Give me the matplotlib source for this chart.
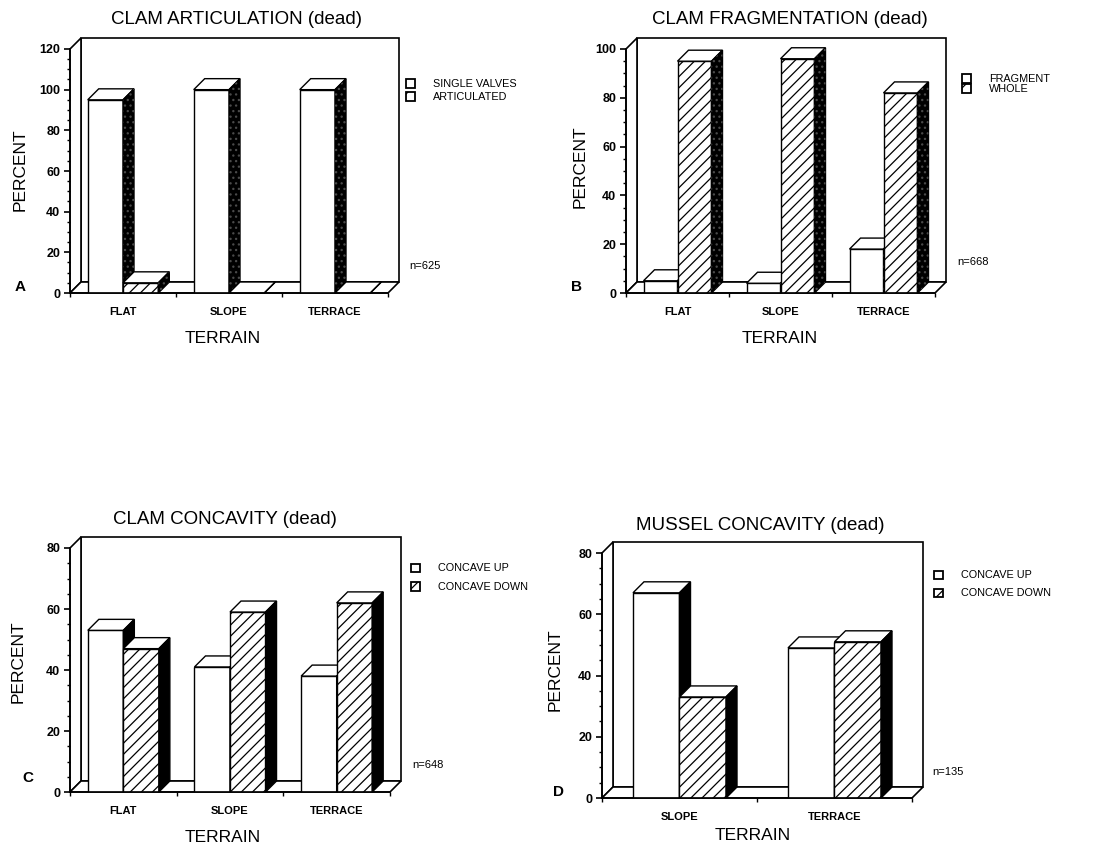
import matplotlib
matplotlib.use("Agg")
import matplotlib.pyplot as plt
from matplotlib.patches import Polygon, Rectangle
from matplotlib.ticker import MultipleLocator

plt.rcParams['font.family'] = ['Liberation Sans', 'DejaVu Sans']
plt.rcParams['hatch.linewidth'] = 0.9

# data
terrain3 = ['FLAT', 'SLOPE', 'TERRACE']
terrain2 = ['SLOPE', 'TERRACE']
single_valves = [95, 100, 100]
articulated = [5, 0, 0]
fragment = [5, 4, 18]
whole = [95, 96, 82]
clam_up = [53, 41, 38]
clam_down = [47, 59, 62]
mussel_up = [67, 49]
mussel_down = [33, 51]

W, H = 1117, 846
fig = plt.figure(figsize=(W / 100, H / 100), dpi=100)


def fx(x):
    return x / W


def fy(y):
    return 1 - y / H


def draw_bar(ax, xl, w, h, dx, dy, hatch, stipple, z):
    # front face
    ax.bar(xl, h, width=w, align='edge', facecolor='white', edgecolor='black',
           hatch=hatch, lw=1, zorder=z)
    # top face
    ax.add_patch(Polygon([(xl, h), (xl + w, h), (xl + w + dx, h + dy), (xl + dx, h + dy)],
                         closed=True, facecolor='white', edgecolor='black', lw=1,
                         zorder=z + 0.1, clip_on=False))
    # side face
    side = [(xl + w, 0), (xl + w + dx, dy), (xl + w + dx, h + dy), (xl + w, h)]
    ax.add_patch(Polygon(side, closed=True, facecolor='black', edgecolor='black', lw=1,
                         zorder=z + 0.2, clip_on=False))
    if stipple:
        ax.add_patch(Polygon(side, closed=True, facecolor='none', edgecolor='#4a4a4a',
                             hatch='...', lw=0, zorder=z + 0.3, clip_on=False))


def panel(box, cats, s1, s2, ymax, bar_w, stipple):
    x0, x1, y0, yt = box
    ax = fig.add_axes([fx(x0), fy(y0), (x1 - x0) / W, (y0 - yt) / H])
    ax.set_facecolor('none')
    ncat = len(cats)
    xmin, xmax = -0.5, ncat - 0.5
    ax.set_xlim(xmin, xmax)
    ax.set_ylim(0, ymax)

    # depth of the 3D effect, about 11 px each way
    dx = 11 / (x1 - x0) * (xmax - xmin)
    dy = 11 / (y0 - yt) * ymax

    # walls and floor
    ax.add_patch(Rectangle((xmin + dx, dy), xmax - xmin, ymax, facecolor='white',
                           edgecolor='black', lw=1.2, zorder=0.5, clip_on=False))
    ax.add_patch(Polygon([(xmin, 0), (xmin + dx, dy), (xmin + dx, ymax + dy), (xmin, ymax)],
                         closed=True, facecolor='white', edgecolor='black', lw=1.2,
                         zorder=0.6, clip_on=False))
    ax.add_patch(Polygon([(xmin, 0), (xmax, 0), (xmax + dx, dy), (xmin + dx, dy)],
                         closed=True, facecolor='white', edgecolor='black', lw=1.2,
                         zorder=0.7, clip_on=False))

    z = 2
    for i in range(ncat):
        draw_bar(ax, i - bar_w, bar_w, s1[i], dx, dy, None, stipple, z)
        z += 1
        draw_bar(ax, i, bar_w, s2[i], dx, dy, '///', stipple, z)
        z += 1

    for side in ['top', 'right']:
        ax.spines[side].set_visible(False)
    for side in ['left', 'bottom']:
        ax.spines[side].set_linewidth(1.2)
        ax.spines[side].set_zorder(50)

    ax.yaxis.set_major_locator(MultipleLocator(20))
    ax.yaxis.set_minor_locator(MultipleLocator(5))
    ax.tick_params(axis='y', which='major', direction='out', length=4, width=1.2,
                   labelsize=9, pad=3)
    ax.tick_params(axis='y', which='minor', direction='out', length=2, width=1)
    for t in ax.get_yticklabels():
        t.set_fontweight('bold')

    ax.set_xticks([i - 0.5 for i in range(ncat + 1)])
    ax.set_xticklabels([])
    ax.set_xticks(range(ncat), minor=True)
    ax.set_xticklabels(cats, minor=True)
    ax.tick_params(axis='x', which='major', direction='out', length=3, width=1)
    ax.tick_params(axis='x', which='minor', length=0, pad=10, labelsize=8)
    for t in ax.get_xticklabels(minor=True):
        t.set_fontweight('bold')
        t.set_family(['Liberation Sans Narrow', 'Liberation Sans'])
    return ax


def legend(x, y1, y2, labels):
    for y, lab, hatch in [(y1, labels[0], None), (y2, labels[1], '//')]:
        fig.add_artist(Rectangle((fx(x - 4.5), fy(y + 4)), 9 / W, 8.5 / H,
                                 transform=fig.transFigure, facecolor='white',
                                 edgecolor='black', lw=1.3, hatch=hatch))
        fig.text(fx(x + 23), fy(y), lab, fontsize=7.8, va='center', ha='left',
                 family=['Liberation Sans Narrow', 'Liberation Sans'])


# A
panel((70, 388, 293, 49), terrain3, single_valves, articulated, 120, 0.333, True)
fig.text(fx(237), fy(20), 'CLAM ARTICULATION (dead)', fontsize=13.5, ha='center', va='center')
fig.text(fx(20), fy(170), 'PERCENT', fontsize=12.5, rotation=90, ha='center', va='center')
fig.text(fx(223), fy(338), 'TERRAIN', fontsize=12.5, ha='center', va='center')
fig.text(fx(20), fy(287), 'A', fontsize=11, fontweight='bold', ha='center', va='center')
fig.text(fx(409), fy(266), 'n=625', fontsize=8, ha='left', va='center')
legend(410, 84, 97, ['SINGLE VALVES', 'ARTICULATED'])

# B
panel((626, 935, 293, 49), terrain3, fragment, whole, 100, 0.33, True)
fig.text(fx(790), fy(20), 'CLAM FRAGMENTATION (dead)', fontsize=13.5, ha='center', va='center')
fig.text(fx(580), fy(167), 'PERCENT', fontsize=12.5, rotation=90, ha='center', va='center')
fig.text(fx(780), fy(338), 'TERRAIN', fontsize=12.5, ha='center', va='center')
fig.text(fx(577), fy(287), 'B', fontsize=11, fontweight='bold', ha='center', va='center')
fig.text(fx(957), fy(262), 'n=668', fontsize=8, ha='left', va='center')
legend(966, 79, 89, ['FRAGMENT', 'WHOLE'])

# C
panel((70, 390, 792, 548), terrain3, clam_up, clam_down, 80, 0.333, False)
fig.text(fx(225), fy(520), 'CLAM CONCAVITY (dead)', fontsize=13.5, ha='center', va='center')
fig.text(fx(18), fy(662), 'PERCENT', fontsize=12.5, rotation=90, ha='center', va='center')
fig.text(fx(223), fy(837), 'TERRAIN', fontsize=12.5, ha='center', va='center')
fig.text(fx(28), fy(778), 'C', fontsize=11, fontweight='bold', ha='center', va='center')
fig.text(fx(412), fy(765), 'n=648', fontsize=8, ha='left', va='center')
legend(415, 568, 587, ['CONCAVE UP', 'CONCAVE DOWN'])

# D
panel((602, 912, 798, 553), terrain2, mussel_up, mussel_down, 80, 0.30, False)
fig.text(fx(760), fy(525), 'MUSSEL CONCAVITY (dead)', fontsize=13.5, ha='center', va='center')
fig.text(fx(555), fy(670), 'PERCENT', fontsize=12.5, rotation=90, ha='center', va='center')
fig.text(fx(753), fy(835), 'TERRAIN', fontsize=12.5, ha='center', va='center')
fig.text(fx(558), fy(792), 'D', fontsize=11, fontweight='bold', ha='center', va='center')
fig.text(fx(932), fy(772), 'n=135', fontsize=8, ha='left', va='center')
legend(938, 575, 593, ['CONCAVE UP', 'CONCAVE DOWN'])

fig.savefig('out.png', dpi=100)
